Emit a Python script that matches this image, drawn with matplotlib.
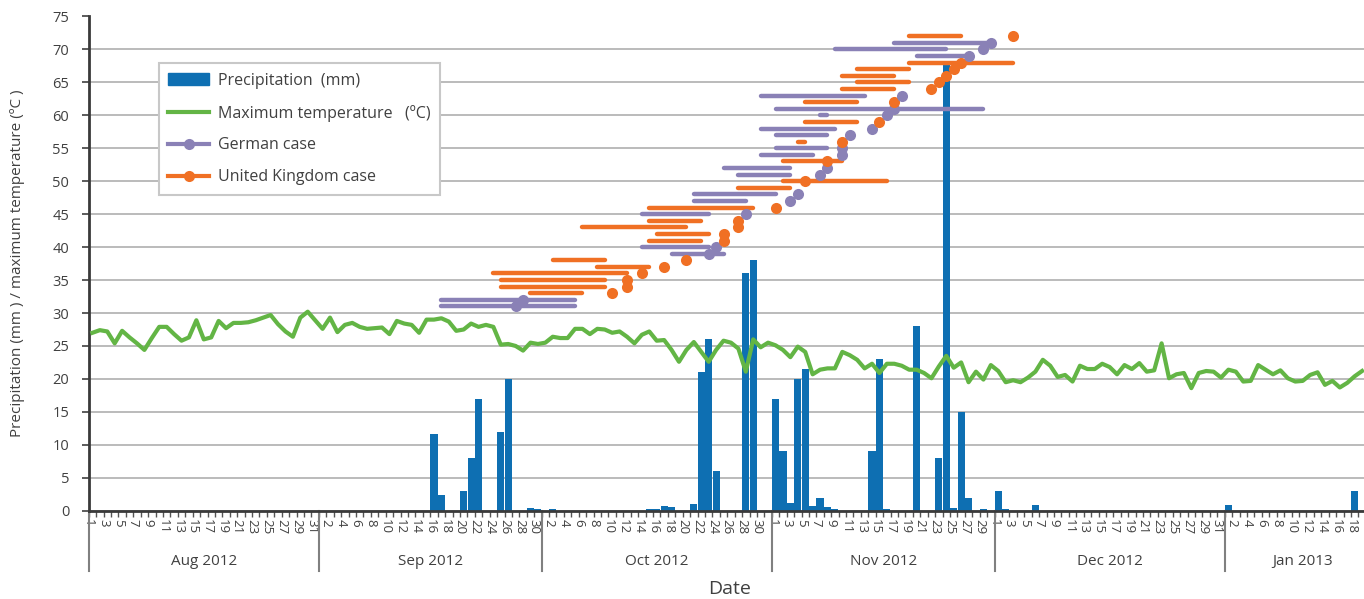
import numpy as np
import pandas as pd
import matplotlib
matplotlib.use("Agg")
import matplotlib.pyplot as plt
from matplotlib.lines import Line2D
from matplotlib.patches import Patch

plt.rcParams["font.family"] = ["Open Sans", "DejaVu Sans"]

TEXT = "#404040"
BLUE = "#0e6fb2"
GREEN = "#63b545"
PURPLE = "#8a81b6"
ORANGE = "#f07024"
GRID = "#a8a8a8"

start = pd.Timestamp("2012-08-01")
days = pd.date_range(start, "2013-01-19")

# daily maximum temperature (degC), 1 Aug 2012 - 19 Jan 2013
tmax = [
    27.0, 27.4, 27.2, 25.4, 27.3, 26.3, 25.4, 24.4, 26.2, 27.9, 27.9, 26.8, 25.8, 26.3, 28.9, 26.0,
    26.3, 28.8, 27.7, 28.5, 28.5, 28.6, 28.9, 29.3, 29.7, 28.3, 27.2, 26.4, 29.3, 30.2, 28.9,
    27.6, 29.3, 27.1, 28.2, 28.5, 27.9, 27.6, 27.7, 27.8, 26.8, 28.8, 28.4, 28.2, 27.0, 29.0,
    29.0, 29.2, 28.7, 27.3, 27.5, 28.4, 27.9, 28.2, 27.9, 25.2, 25.3, 25.0, 24.3, 25.5, 25.3,
    25.5, 26.4, 26.2, 26.2, 27.6, 27.6, 26.8, 27.6, 27.5, 27.0, 27.2, 26.4, 25.4, 26.7, 27.2,
    25.8, 25.9, 24.4, 22.6, 24.4, 25.6, 24.1, 22.6, 24.4, 25.8, 25.5, 24.6, 21.1, 26.0, 24.8, 25.5,
    25.1, 24.4, 23.3, 24.9, 24.1, 20.7, 21.4, 21.6, 21.6, 24.1, 23.6, 22.9, 21.6, 22.3, 20.9,
    22.3, 22.3, 22.0, 21.4, 21.4, 20.9, 20.1, 21.9, 23.5, 21.7, 22.5, 19.5, 21.1, 19.9, 22.1,
    21.2, 19.5, 19.8, 19.5, 20.2, 21.1, 22.9, 22.0, 20.3, 20.6, 19.6, 22.0, 21.5, 21.5, 22.3,
    21.8, 20.7, 22.1, 21.5, 22.4, 21.1, 21.3, 25.4, 20.1, 20.7, 20.9, 18.6, 20.9, 21.2, 21.1, 20.2,
    21.4, 21.1, 19.6, 19.7, 22.1, 21.4, 20.7, 21.3, 20.1, 19.6, 19.7, 20.6, 21.0, 19.1, 19.7,
    18.7, 19.4, 20.4, 21.2,
]

# days with precipitation (mm)
rain_dates = [
    "2012-09-16", "2012-09-17", "2012-09-20", "2012-09-21", "2012-09-22", "2012-09-25",
    "2012-09-26", "2012-09-29", "2012-09-30", "2012-10-02", "2012-10-15", "2012-10-16",
    "2012-10-17", "2012-10-18", "2012-10-21", "2012-10-22", "2012-10-23", "2012-10-24",
    "2012-10-28", "2012-10-29", "2012-11-01", "2012-11-02", "2012-11-03", "2012-11-04",
    "2012-11-05", "2012-11-06", "2012-11-07", "2012-11-08", "2012-11-09", "2012-11-14",
    "2012-11-15", "2012-11-16", "2012-11-20", "2012-11-23", "2012-11-24", "2012-11-25",
    "2012-11-26", "2012-11-27", "2012-11-29", "2012-12-01", "2012-12-02", "2012-12-06",
    "2013-01-01", "2013-01-18",
]
rain_mm = [
    11.7, 2.4, 3.0, 8.0, 17.0, 12.0, 20.0, 0.4, 0.2, 0.2, 0.2, 0.2,
    0.7, 0.5, 1.0, 21.0, 26.0, 6.0, 36.0, 38.0, 17.0, 9.0, 1.2, 20.0,
    21.5, 0.7, 2.0, 0.5, 0.2, 9.0, 23.0, 0.2, 28.0, 8.0, 68.0, 0.4,
    15.0, 2.0, 0.3, 3.0, 0.3, 0.9, 0.9, 3.0,
]

# cases: number, country, date of onset and exposure window
case_no = list(range(31, 73))
case_country = [
    "DE", "DE", "UK", "UK", "UK", "UK", "UK", "UK", "DE", "DE", "UK", "UK", "UK", "UK",
    "DE", "UK", "DE", "DE", "UK", "UK", "DE", "DE", "UK", "DE", "DE", "UK", "DE", "DE",
    "UK", "DE", "DE", "UK", "DE", "UK", "UK", "UK", "UK", "UK", "DE", "DE", "DE", "UK",
]
onset = [
    "2012-09-27", "2012-09-28", "2012-10-10", "2012-10-12", "2012-10-12", "2012-10-14",
    "2012-10-17", "2012-10-20", "2012-10-23", "2012-10-24", "2012-10-25", "2012-10-25",
    "2012-10-27", "2012-10-27", "2012-10-28", "2012-11-01", "2012-11-03", "2012-11-04",
    None, "2012-11-05", "2012-11-07", "2012-11-08", "2012-11-08", "2012-11-10",
    "2012-11-10", "2012-11-10", "2012-11-11", "2012-11-14", "2012-11-15", "2012-11-16",
    "2012-11-17", "2012-11-17", "2012-11-18", "2012-11-22", "2012-11-23", "2012-11-24",
    "2012-11-25", "2012-11-26", "2012-11-27", "2012-11-29", "2012-11-30", "2012-12-03",
]
win_start = [
    "2012-09-17", "2012-09-17", "2012-09-29", "2012-09-25", "2012-09-25", "2012-09-24",
    "2012-10-08", "2012-10-02", "2012-10-18", "2012-10-14", "2012-10-15", "2012-10-16",
    "2012-10-06", "2012-10-15", "2012-10-14", "2012-10-15", "2012-10-21", "2012-10-21",
    "2012-10-27", "2012-11-02", "2012-10-27", "2012-10-25", "2012-11-02", "2012-10-30",
    "2012-11-01", "2012-11-04", "2012-11-01", "2012-10-30", "2012-11-05", "2012-11-07",
    "2012-11-01", "2012-11-05", "2012-10-30", "2012-11-10", "2012-11-12", "2012-11-10",
    "2012-11-12", "2012-11-19", "2012-11-20", "2012-11-09", "2012-11-17", "2012-11-19",
]
win_end = [
    "2012-10-05", "2012-10-05", "2012-10-06", "2012-10-09", "2012-10-09", "2012-10-12",
    "2012-10-15", "2012-10-09", "2012-10-25", "2012-10-23", "2012-10-22", "2012-10-23",
    "2012-10-20", "2012-10-22", "2012-10-23", "2012-10-29", "2012-10-28", "2012-11-01",
    "2012-11-03", "2012-11-16", "2012-11-03", "2012-11-03", "2012-11-10", "2012-11-06",
    "2012-11-08", "2012-11-05", "2012-11-08", "2012-11-09", "2012-11-12", "2012-11-08",
    "2012-11-29", "2012-11-12", "2012-11-13", "2012-11-17", "2012-11-19", "2012-11-17",
    "2012-11-19", "2012-12-03", "2012-11-27", "2012-11-24", "2012-11-30", "2012-11-26",
]

months = ["Aug 2012", "Sep 2012", "Oct 2012", "Nov 2012", "Dec 2012", "Jan 2013"]


def pos(d):
    # centre of the day's slot on the category axis
    if d is None:
        return np.nan
    return (pd.Timestamp(d) - start).days + 0.5


x_end = 174  # axis runs to 21 Jan, the figure edge cuts it off
fig = plt.figure(figsize=(13.64, 5.99), dpi=100)
W, H = 1364, 599
ax = fig.add_axes([88.7 / W, 1 - 510.7 / H, 7.425 * x_end / W, (510.7 - 16.5) / H])

x_days = np.arange(len(days)) + 0.5
ax.bar([pos(d) for d in rain_dates], rain_mm, width=0.96, color=BLUE, zorder=2)
ax.plot(x_days, tmax, color=GREEN, lw=3.0, zorder=3, solid_joinstyle="round")

colors = {"DE": PURPLE, "UK": ORANGE}
for n, c, s, e in zip(case_no, case_country, win_start, win_end):
    ax.plot([pos(s), pos(e)], [n, n], color=colors[c], lw=3.2,
            solid_capstyle="round", zorder=4)
for n, c, o in zip(case_no, case_country, onset):
    ax.plot(pos(o), n, "o", color=colors[c], ms=8, mec="none", zorder=5)

ax.set_xlim(0, x_end)
ax.set_ylim(0, 75)

# y axis
ax.set_yticks(range(0, 80, 5))
ax.yaxis.grid(True, color=GRID, lw=1.1)
ax.set_axisbelow(True)
ax.tick_params(axis="y", length=5, width=1.2, color="#404040", labelsize=10.5,
               labelcolor=TEXT, pad=9)
for side in ["top", "right"]:
    ax.spines[side].set_visible(False)
ax.spines["left"].set_color("#3a3a3a")
ax.spines["left"].set_linewidth(2)
ax.spines["bottom"].set_color("#3a3a3a")
ax.spines["bottom"].set_linewidth(2)

# x axis: every day ticked, every second day labelled
ax.set_xticks(np.arange(0, x_end + 1), minor=True)
major = np.arange(0, len(days) - 1, 2)
ax.set_xticks(major)
ax.set_xticklabels([str((start + pd.Timedelta(days=int(i))).day) for i in major],
                   rotation=-90, fontsize=9.5, color=TEXT)
ax.tick_params(axis="x", which="both", length=4, width=1, color="#555555", pad=2)

# month separators and labels below the day labels
m_starts = [(pd.Timestamp(m) - start).days for m in pd.date_range(start, periods=6, freq="MS")]
trans = ax.get_xaxis_transform()
for m in m_starts:
    ax.plot([m, m], [0, -60 / 494.2], color="#808080", lw=1.5, transform=trans, clip_on=False)
m_bounds = m_starts + [x_end]
for name, a, b in zip(months, m_bounds[:-1], m_bounds[1:]):
    ax.text((a + b) / 2, -51 / 494.2, name, transform=trans, ha="center", va="center",
            fontsize=11, color=TEXT)

fig.text(730 / W, 1 - 589 / H, "Date", ha="center", va="center", fontsize=14, color=TEXT)
fig.text(18 / W, 1 - 263.6 / H, "Precipitation (mm ) / maximum temperature (\u00baC )",
         rotation=90, ha="center", va="center", fontsize=11, color=TEXT)

handles = [
    Patch(color=BLUE),
    Line2D([], [], color=GREEN, lw=3),
    Line2D([], [], color=PURPLE, lw=3, marker="o", ms=8, mec="none"),
    Line2D([], [], color=ORANGE, lw=3, marker="o", ms=8, mec="none"),
]
labels = ["Precipitation  (mm)", "Maximum temperature   (\u00baC)", "German case",
          "United Kingdom case"]
leg = ax.legend(handles, labels, loc="upper left",
                bbox_to_anchor=((158.7 - 88.7) / (7.425 * x_end), (510.7 - 63.3) / 494.2),
                borderaxespad=0, fancybox=False, edgecolor="#c8c8c8", fontsize=11.5,
                handlelength=2.6, handletextpad=0.55, labelspacing=1.0, borderpad=0.58,
                framealpha=1)
leg.get_frame().set_linewidth(1.5)
for t in leg.get_texts():
    t.set_color(TEXT)

fig.savefig("out.png", dpi=100)
